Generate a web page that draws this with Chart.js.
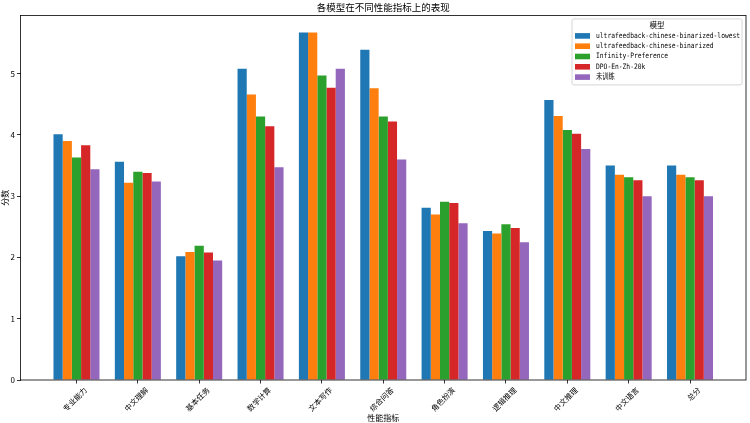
<!DOCTYPE html>
<html>
<head>
<meta charset="utf-8">
<script src="https://cdn.jsdelivr.net/npm/chart.js@4"></script>
<style>
  html, body { margin: 0; padding: 0; background: #fff; }
  #wrap { width: 750px; height: 423px; }
</style>
</head>
<body>
<div id="wrap"><canvas id="barChart"></canvas></div>
<script>
const categories = ["专业能力", "中文理解", "基本任务", "数学计算", "文本写作", "综合问答", "角色扮演", "逻辑推理", "中文推理", "中文语言", "总分"];
const modelNames = ["ultrafeedback-chinese-binarized-lowest", "ultrafeedback-chinese-binarized", "Infinity-Preference", "DPO-En-Zh-20k", "未训练"];
const lowest     = [4.01, 3.56, 2.02, 5.08, 5.67, 5.39, 2.81, 2.43, 4.57, 3.50, 3.50];
const binarized  = [3.90, 3.22, 2.09, 4.66, 5.67, 4.76, 2.70, 2.39, 4.31, 3.35, 3.35];
const infinity   = [3.63, 3.40, 2.19, 4.30, 4.97, 4.30, 2.91, 2.54, 4.08, 3.31, 3.31];
const dpo        = [3.83, 3.38, 2.08, 4.14, 4.77, 4.22, 2.89, 2.48, 4.02, 3.26, 3.26];
const untrained  = [3.44, 3.24, 1.95, 3.47, 5.08, 3.60, 2.56, 2.25, 3.77, 3.00, 3.00];
const yTicks = [0, 1, 2, 3, 4, 5];

const colors = ["#1f77b4", "#ff7f0e", "#2ca02c", "#d62728", "#9467bd"]; // tab10
const series = [lowest, binarized, infinity, dpo, untrained];
const CJK = '"Noto Sans CJK SC", "DejaVu Sans", sans-serif';

// box around the plot, like matplotlib spines
const framePlugin = {
  id: "frame",
  afterDatasetsDraw(chart) {
    const a = chart.chartArea, ctx = chart.ctx;
    ctx.save();
    ctx.strokeStyle = "#000";
    ctx.lineWidth = 0.8;
    ctx.strokeRect(a.left, a.top, a.right - a.left, a.bottom - a.top);
    ctx.restore();
  }
};

// legend drawn inside the plot, upper right
const legendPlugin = {
  id: "insideLegend",
  afterDraw(chart) {
    const a = chart.chartArea, ctx = chart.ctx;
    const w = 170, h = 66;
    const x = a.right - 4 - w, y = a.top + 3.5;
    ctx.save();
    ctx.fillStyle = "rgba(255,255,255,0.8)";
    ctx.strokeStyle = "#cccccc";
    ctx.lineWidth = 0.8;
    ctx.beginPath();
    ctx.roundRect(x, y, w, h, 2);
    ctx.fill();
    ctx.stroke();
    ctx.fillStyle = "#000";
    ctx.textBaseline = "middle";
    ctx.textAlign = "center";
    ctx.font = "7.5px " + CJK;
    ctx.fillText("模型", x + w / 2, y + 6.5);
    ctx.textAlign = "left";
    chart.data.datasets.forEach((ds, i) => {
      const yy = y + 17 + i * 10.3;
      ctx.fillStyle = ds.backgroundColor;
      ctx.fillRect(x + 3, yy - 2.8, 15, 5.6);
      ctx.fillStyle = "#000";
      ctx.save();
      ctx.translate(x + 24, yy);
      ctx.scale(0.84, 1);
      ctx.font = '7.5px "DejaVu Sans Mono", ' + CJK;
      ctx.fillText(ds.label, 0, 0);
      ctx.restore();
    });
    ctx.restore();
  }
};

var ctx = document.getElementById("barChart").getContext("2d");
var chart = new Chart(ctx, {
  type: "bar",
  data: {
    datasets: series.map((vals, k) => ({
      label: modelNames[k],
      data: vals.map((v, i) => ({ x: i, y: v })),
      backgroundColor: colors[k],
      borderWidth: 0,
      categoryPercentage: 0.75,
      barPercentage: 1.0,
    })),
  },
  options: {
    responsive: true,
    maintainAspectRatio: false,
    animation: false,
    layout: { padding: { top: 0, right: 4, left: 0, bottom: 0 } },
    plugins: {
      legend: { display: false },
      tooltip: { enabled: false },
      title: {
        display: true,
        fullSize: false,
        text: "各模型在不同性能指标上的表现",
        color: "#000",
        font: { family: CJK, size: 9.5, weight: "normal" },
        padding: { top: 2, bottom: 2 },
      },
    },
    scales: {
      x: {
        type: "linear",
        offset: false,
        min: -0.9125,
        max: 10.9125,
        afterBuildTicks: (s) => { s.ticks = categories.map((c, i) => ({ value: i })); },
        afterFit: (s) => { s.height = 43; },
        border: { display: false },
        grid: { offset: false, drawOnChartArea: false, drawTicks: true, tickLength: 3.5, color: "#000", lineWidth: 0.8 },
        ticks: {
          autoSkip: false,
          minRotation: 45,
          maxRotation: 45,
          labelOffset: 9,
          padding: 2,
          color: "#000",
          font: { family: CJK, size: 7.5 },
          callback: (v) => categories[v],
        },
        title: {
          display: true,
          text: "性能指标",
          color: "#000",
          font: { family: CJK, size: 8 },
          padding: { top: 0, bottom: 0 },
        },
      },
      y: {
        min: 0,
        max: 5.95,
        afterBuildTicks: (s) => { s.ticks = yTicks.map((v) => ({ value: v })); },
        afterFit: (s) => { s.width = 20.5; },
        border: { display: false },
        grid: { drawOnChartArea: false, drawTicks: true, tickLength: 3.5, color: "#000", lineWidth: 0.8 },
        ticks: {
          padding: 2,
          color: "#000",
          font: { family: CJK, size: 8 },
        },
        title: {
          display: true,
          text: "分数",
          color: "#000",
          font: { family: CJK, size: 8 },
          padding: { top: 0, bottom: 0 },
        },
      },
    },
  },
  plugins: [framePlugin, legendPlugin],
});
</script>
</body>
</html>
